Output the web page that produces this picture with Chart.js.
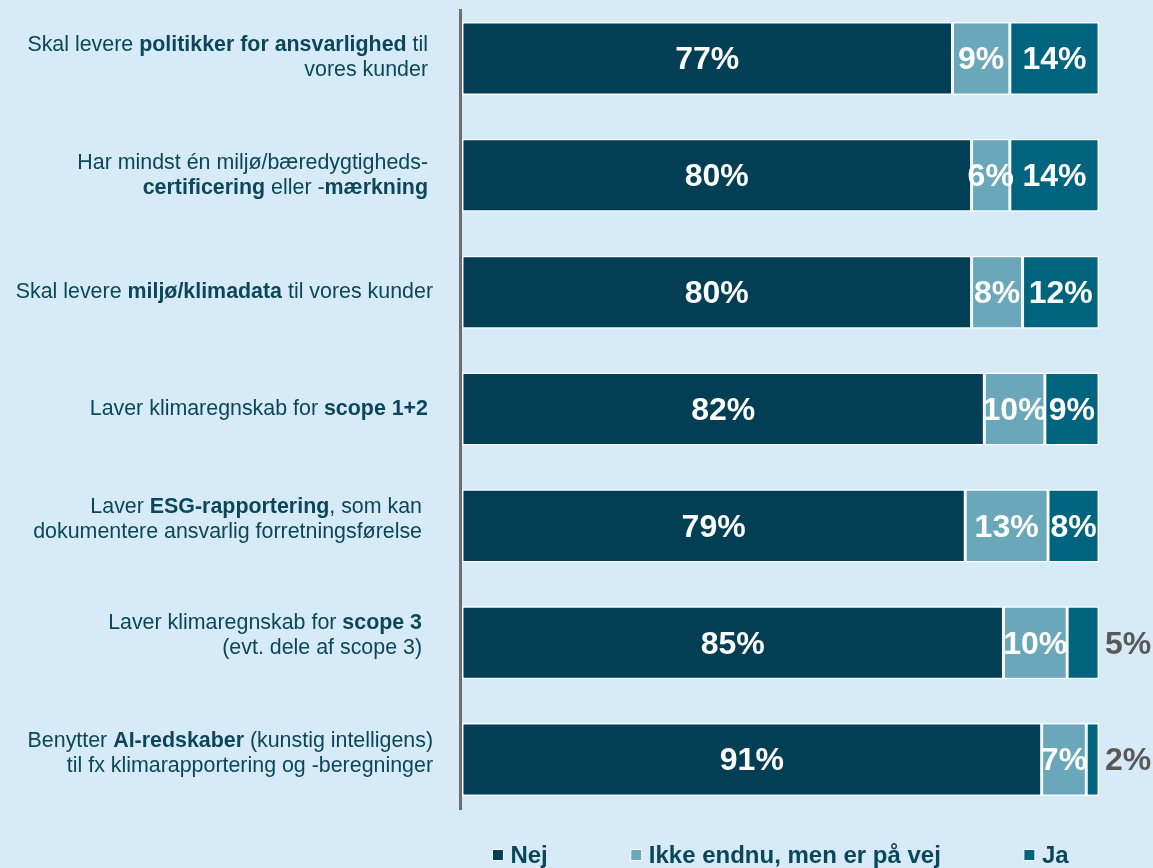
<!DOCTYPE html>
<html>
<head>
<meta charset="utf-8">
<script src="https://cdn.jsdelivr.net/npm/chart.js@4"></script>
<style>
  body { margin: 0; background: #d6eaf8; }
  #wrap { width: 1153px; height: 868px; }
</style>
</head>
<body>
<div id="wrap"><canvas id="barChart" width="1153" height="868"></canvas></div>
<script>
// ** marks bold parts of a label line
const labelLines = [
  ['Skal levere **politikker for ansvarlighed** til', 'vores kunder'],
  ['Har mindst én miljø/bæredygtigheds-', '**certificering** eller -**mærkning**'],
  ['Skal levere **miljø/klimadata** til vores kunder'],
  ['Laver klimaregnskab for **scope 1+2**'],
  ['Laver **ESG-rapportering**, som kan', 'dokumentere ansvarlig forretningsførelse'],
  ['Laver klimaregnskab for **scope 3**', '(evt. dele af scope 3)'],
  ['Benytter **AI-redskaber** (kunstig intelligens)', 'til fx klimarapportering og -beregninger'],
];
const categories = labelLines.map(l => l.join(' ').replace(/\*\*/g, ''));

const seriesNames = ['Nej', 'Ikke endnu, men er på vej', 'Ja'];
const nej = [77, 80, 80, 82, 79, 85, 91];
const ikke = [9, 6, 8, 9.5, 13, 10, 7];
const ja = [14, 14, 12, 8.5, 8, 5, 2];

const colors = ['#023f54', '#6ba7bb', '#00647f'];
const textColor = '#0b4759';
const FONT = "'Liberation Sans', Arial, sans-serif";

const annotate = {
  id: 'annotate',
  afterDatasetsDraw(chart) {
    const ctx = chart.ctx;
    ctx.save();
    ctx.font = 'bold 32px ' + FONT;
    ctx.textBaseline = 'middle';
    chart.data.datasets.forEach((ds, di) => {
      chart.getDatasetMeta(di).data.forEach((bar, i) => {
        const v = ds.data[i];
        const { x, y, base } = bar.getProps(['x', 'y', 'base'], true);
        const txt = Math.round(v) + '%';
        if (v < 6) {
          ctx.fillStyle = '#595959';
          ctx.textAlign = 'left';
          ctx.fillText(txt, x + 6, y + 2);
        } else {
          ctx.fillStyle = '#ffffff';
          ctx.textAlign = 'center';
          ctx.fillText(txt, (x + base) / 2, y + 2);
        }
      });
    });
    ctx.restore();
  },
  afterDraw(chart, args, opts) {
    const ctx = chart.ctx;
    const area = chart.chartArea;
    const yScale = chart.scales.y;
    ctx.save();

    // vertical axis line
    ctx.strokeStyle = '#6e6e6e';
    ctx.lineWidth = 3;
    ctx.beginPath();
    ctx.moveTo(area.left - 1.5, 9);
    ctx.lineTo(area.left - 1.5, 810);
    ctx.stroke();

    // category labels with bold parts
    const regular = '21.4px ' + FONT;
    const bold = 'bold 21.4px ' + FONT;
    const lineH = 25;
    ctx.fillStyle = textColor;
    ctx.textBaseline = 'middle';
    ctx.textAlign = 'left';
    labelLines.forEach((lines, i) => {
      const cy = yScale.getPixelForValue(i) + opts.shift[i];
      const right = opts.right[i];
      lines.forEach((line, li) => {
        const parts = line.split('**').map((t, k) => ({ t, b: k % 2 === 1 }));
        let w = 0;
        parts.forEach(p => { ctx.font = p.b ? bold : regular; p.w = ctx.measureText(p.t).width; w += p.w; });
        let x = right - w;
        const y = cy - (lines.length - 1) * lineH / 2 + li * lineH;
        parts.forEach(p => { ctx.font = p.b ? bold : regular; ctx.fillText(p.t, x, y); x += p.w; });
      });
    });

    // legend
    ctx.font = 'bold 24px ' + FONT;
    const box = 11, boxGap = 7, itemGap = 83;
    const widths = seriesNames.map(n => box + boxGap + ctx.measureText(n).width);
    const total = widths.reduce((a, b) => a + b, 0) + itemGap * (seriesNames.length - 1);
    let lx = (area.left + area.right) / 2 - total / 2;
    const ly = 855;
    seriesNames.forEach((n, i) => {
      ctx.fillStyle = colors[i];
      ctx.fillRect(lx, ly - box / 2, box, box);
      ctx.strokeStyle = '#ffffff';
      ctx.lineWidth = 1;
      ctx.strokeRect(lx, ly - box / 2, box, box);
      ctx.fillStyle = textColor;
      ctx.fillText(n, lx + box + boxGap, ly + 1);
      lx += widths[i] + itemGap;
    });
    ctx.restore();
  },
};

new Chart(document.getElementById('barChart'), {
  type: 'bar',
  data: {
    labels: categories,
    datasets: [nej, ikke, ja].map((d, i) => ({
      label: seriesNames[i],
      data: d,
      backgroundColor: colors[i],
      borderColor: '#ffffff',
      borderWidth: 1.5,
      borderSkipped: false,
      categoryPercentage: 1,
      barPercentage: 0.625,
    })),
  },
  options: {
    indexAxis: 'y',
    responsive: false,
    animation: false,
    layout: { padding: { top: 0, right: 54, bottom: 50, left: 0 } },
    scales: {
      x: { stacked: true, min: 0, max: 100, display: false },
      y: {
        stacked: true,
        ticks: { display: false },
        grid: { display: false },
        border: { display: false },
        afterFit(scale) { scale.width = 462; },
      },
    },
    plugins: {
      legend: { display: false },
      tooltip: { enabled: false },
      annotate: {
        shift: [-1, 0, 0, 0, -6, -7, -6],
        right: [428, 428, 433, 428, 422, 422, 433],
      },
    },
  },
  plugins: [annotate],
});
</script>
</body>
</html>
